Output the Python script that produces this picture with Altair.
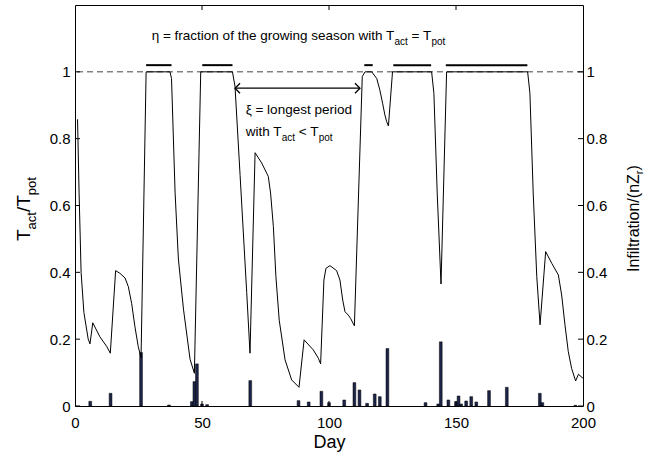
import altair as alt
import pandas as pd

FONT = "Liberation Sans"

# ---- data ----
line_day = [1, 1.6, 2.4, 3.5, 5.2, 5.9, 7.0, 9.8, 12.5, 13.9, 16.0, 17.7, 19.7, 21.0, 22.3, 23.6,
            24.9, 26.0, 28.0, 37.4, 38.0, 39.4, 40.7, 42.7, 45.3, 47.0, 49.5, 62.0, 63.0, 65.0,
            67.6, 68.9, 70.9, 73.5, 76.1, 77.0, 78.1, 79.1, 80.4, 82.7, 85.3, 88.2, 90.2, 93.8,
            95.8, 96.7, 98.0, 98.8, 100.4, 103.0, 104.3, 105.4, 106.3, 107.6, 108.5, 110.0,
            113.1, 114.2, 116.8, 118.8, 120.0, 121.1, 122.0, 122.7, 123.4, 125.0, 140.4, 141.3,
            142.6, 144.1, 146.3, 178.2, 179.1, 180.4, 181.8, 183.1, 185.3, 187.7, 190.3, 191.6,
            192.9, 194.2, 195.5, 197.1, 198.2, 200.0]
line_val = [0.858, 0.64, 0.40, 0.28, 0.20, 0.186, 0.249, 0.207, 0.178, 0.158, 0.405, 0.397, 0.383,
            0.357, 0.307, 0.237, 0.178, 0.144, 1.0, 1.0, 0.98, 0.64, 0.44, 0.29, 0.14, 0.098, 1.0,
            1.0, 0.956, 0.69, 0.34, 0.158, 0.758, 0.727, 0.687, 0.637, 0.537, 0.387, 0.257, 0.138,
            0.078, 0.056, 0.198, 0.168, 0.143, 0.126, 0.377, 0.412, 0.42, 0.405, 0.377, 0.317,
            0.282, 0.272, 0.262, 0.24, 0.986, 1.0, 1.0, 0.98, 0.946, 0.906, 0.871, 0.851, 0.838,
            1.0, 1.0, 0.936, 0.637, 0.365, 1.0, 1.0, 0.936, 0.637, 0.387, 0.243, 0.462, 0.427,
            0.392, 0.332, 0.243, 0.163, 0.113, 0.075, 0.095, 0.083]

rain_day = [6, 14, 26, 37, 46, 47, 48, 50, 52, 69, 88, 92, 97, 100, 106, 110, 112, 115, 118, 120,
            123, 138, 143, 144, 147, 150, 151, 152, 154, 156, 158, 163, 170, 183, 184, 197]
rain_val = [0.014, 0.038, 0.16, 0.003, 0.013, 0.073, 0.126, 0.006, 0.004, 0.076, 0.016, 0.012,
            0.044, 0.010, 0.018, 0.07, 0.048, 0.008, 0.036, 0.028, 0.172, 0.010, 0.006, 0.192,
            0.018, 0.013, 0.030, 0.006, 0.015, 0.028, 0.012, 0.046, 0.056, 0.038, 0.010, 0.002]

eta_start = [28, 50.1, 113.9, 125.3, 146]
eta_end = [38, 62, 117.2, 140.2, 178.1]
eta_level = 1.02

xi_start, xi_end, xi_level = 63, 112.2, 0.951

x_ticks = [0, 50, 100, 150, 200]
y_ticks = [0, 0.2, 0.4, 0.6, 0.8, 1.0]

W_PX, H_PX = 508, 401
XDOM, YDOM = [0, 200], [0, 1.2]

xaxis = alt.Axis(values=x_ticks, title="Day", ticks=False, domain=False, grid=False,
                 labelFlush=False, labelPadding=9, labelFontSize=15, titleFontSize=18,
                 titlePadding=3, titleFontWeight="normal", labelFont=FONT, titleFont=FONT,
                 labelColor="black", titleColor="black")


def X(f):
    return alt.X(f, type="quantitative", scale=alt.Scale(domain=XDOM, nice=False), axis=xaxis)


def Y(f, axis=None):
    return alt.Y(f, type="quantitative", scale=alt.Scale(domain=YDOM, nice=False), axis=axis)


def yaxis(orient, pad):
    return alt.Axis(orient=orient, values=y_ticks, format="~g", ticks=False, domain=False,
                    grid=False, labelFlush=False, labelPadding=pad, labelFontSize=15,
                    labelFont=FONT, labelColor="black", title=None)


# ---- text helpers ----
WID = {" ": 278, "=": 584, "<": 584, "/": 278, "(": 333, ")": 333, "η": 556, "ξ": 500,
       "a": 556, "b": 556, "c": 500, "d": 556, "e": 556, "f": 278, "g": 556, "h": 556, "i": 222,
       "j": 222, "k": 500, "l": 222, "m": 833, "n": 556, "o": 556, "p": 556, "q": 556, "r": 333,
       "s": 500, "t": 278, "u": 556, "v": 500, "w": 722, "x": 500, "y": 500, "z": 500,
       "T": 611, "Z": 611, "I": 278}


def tw(s, size):
    return sum(WID.get(c, 556) for c in s) / 1000 * size


def rich(pieces, x, y, angle=0, pixel=False):
    layers = []
    dx = 0.0
    for txt, size, dy in pieces:
        # leading spaces are dropped by SVG, so turn them into an offset
        stripped = txt.lstrip(" ")
        dx += tw(txt[: len(txt) - len(stripped)], size)
        df = pd.DataFrame({"day": [x], "v": [y], "t": [stripped]})
        m = alt.Chart(df).mark_text(align="left", baseline="alphabetic", dx=dx, dy=dy,
                                    fontSize=size, angle=angle, font=FONT, color="black")
        if pixel:
            c = m.encode(x=alt.value(x), y=alt.value(y), text="t:N")
        else:
            c = m.encode(x=X("day"), y=Y("v"), text="t:N")
        layers.append(c)
        dx += tw(stripped, size)
    return layers


# ---- layers ----
dash = alt.Chart(pd.DataFrame({"v": [1.0]})).mark_rule(
    strokeDash=[6, 4], color="#444444", strokeWidth=1).encode(y=Y("v"))

bars_df = pd.DataFrame({"day": rain_day, "v": rain_val})
bars = alt.Chart(bars_df).transform_calculate(
    d1="datum.day - 0.55", d2="datum.day + 0.55", z="0"
).mark_bar(color="#1c2448", stroke="black", strokeWidth=0.5).encode(
    x=X("d1:Q"), x2=alt.X2("d2:Q"),
    y=Y("v", axis=yaxis("right", 3)),
    y2=alt.Y2("z:Q"),
)

line = alt.Chart(pd.DataFrame({"day": line_day, "v": line_val})).mark_line(
    color="black", strokeWidth=1).encode(
    x=X("day"),
    y=Y("v", axis=yaxis("left", 5)),
)

eta = alt.Chart(pd.DataFrame({"day": eta_start, "day2": eta_end, "v": [eta_level] * 5})).mark_rule(
    color="black", strokeWidth=2).encode(x=X("day"), x2=alt.X2("day2"), y=Y("v"))

arrow = alt.Chart(pd.DataFrame({"day": [xi_start], "day2": [xi_end], "v": [xi_level]})).mark_rule(
    color="black", strokeWidth=1.3).encode(x=X("day"), x2=alt.X2("day2"), y=Y("v"))

head_l = alt.Chart(pd.DataFrame({"day": [xi_start], "v": [xi_level]})).mark_point(
    shape="M1,-1L0,0L1,1", size=100, filled=False, stroke="black", strokeWidth=1.3, opacity=1
).encode(x=X("day"), y=Y("v"))
head_r = alt.Chart(pd.DataFrame({"day": [xi_end], "v": [xi_level]})).mark_point(
    shape="M-1,-1L0,0L-1,1", size=100, filled=False, stroke="black", strokeWidth=1.3, opacity=1
).encode(x=X("day"), y=Y("v"))

# inward ticks
tick_y = pd.DataFrame({"v": y_ticks})
lt = alt.Chart(tick_y).mark_rule(color="black", strokeWidth=1).encode(
    y=Y("v"), x=alt.value(0), x2=alt.value(5))
rt = alt.Chart(tick_y).mark_rule(color="black", strokeWidth=1).encode(
    y=Y("v"), x=alt.value(W_PX), x2=alt.value(W_PX - 5))
tick_x = pd.DataFrame({"day": [50, 100, 150]})
bt = alt.Chart(tick_x).mark_rule(color="black", strokeWidth=1).encode(
    x=X("day"), y=alt.value(H_PX), y2=alt.value(H_PX - 5))
tt = alt.Chart(tick_x).mark_rule(color="black", strokeWidth=1).encode(
    x=X("day"), y=alt.value(0), y2=alt.value(5))

# annotations
top_text = rich([("η = fraction of the growing season with T", 13.5, 0), ("act", 10, 5),
                 (" = T", 13.5, 0), ("pot", 10, 5)], 30.2, 1.094)
xi_text1 = rich([("ξ = longest period", 13.5, 0)], 67.2, 0.873)
xi_text2 = rich([("with T", 13.5, 0), ("act", 10, 5), (" < T", 13.5, 0), ("pot", 10, 5)],
                67.2, 0.808)

left_title = rich([("T", 19, 0), ("act", 13, 6), ("/T", 19, 0), ("pot", 13, 6)],
                  -45, 236, angle=270, pixel=True)
right_title = rich([("Infiltration/(nZ", 16, 0), ("r", 11, 4), (")", 16, 0)],
                   563.5, 267, angle=270, pixel=True)

chart = alt.layer(
    dash, bars, line, eta, arrow, head_l, head_r, lt, rt, bt, tt,
    *top_text, *xi_text1, *xi_text2, *left_title, *right_title
).resolve_scale(y="independent").properties(
    width=W_PX, height=H_PX,
    autosize=alt.AutoSizeParams(type="none"),
    padding={"left": 75, "top": 5, "right": 72, "bottom": 49},
    background="white",
).configure_view(stroke="black", strokeWidth=1)

chart.save("out.html", embed_options={"renderer": "svg", "actions": False})
